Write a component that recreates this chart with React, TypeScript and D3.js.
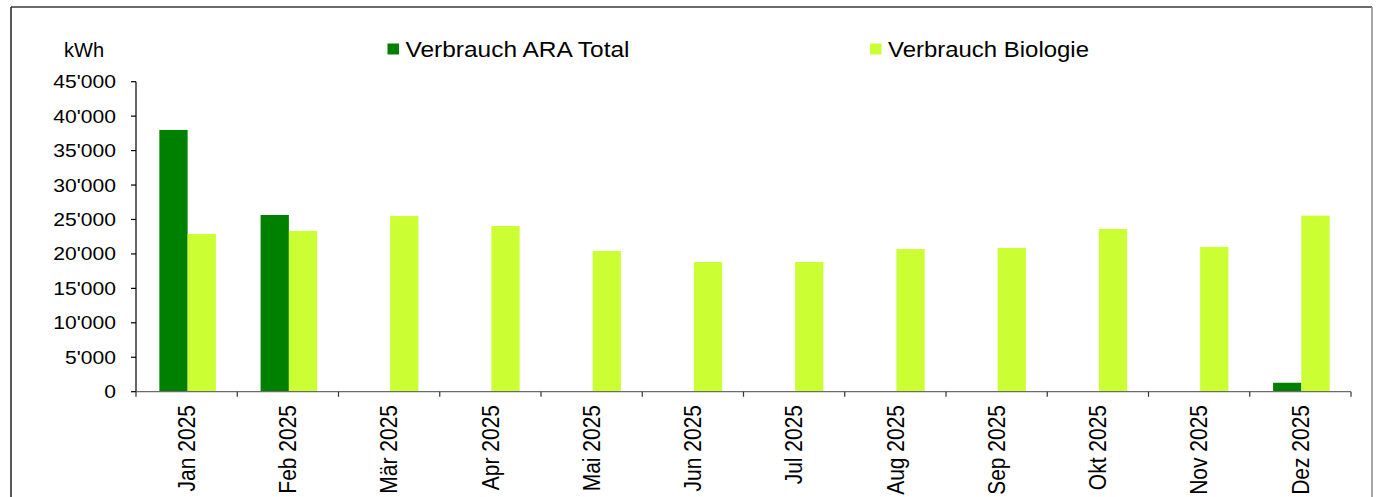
import React from "react";
import * as d3 from "d3";

const months = ["Jan 2025", "Feb 2025", "Mär 2025", "Apr 2025", "Mai 2025", "Jun 2025", "Jul 2025", "Aug 2025", "Sep 2025", "Okt 2025", "Nov 2025", "Dez 2025"];
const araTotal: (number | null)[] = [38000, 25650, null, null, null, null, null, null, null, null, null, 1300];
const biologie: (number | null)[] = [22900, 23330, 25500, 24050, 20420, 18830, 18830, 20710, 20860, 23620, 21000, 25560];
const seriesNames = ["Verbrauch ARA Total", "Verbrauch Biologie"];
const seriesColors = ["#008000", "#CCFF33"];
const yTicks = [0, 5000, 10000, 15000, 20000, 25000, 30000, 35000, 40000, 45000];
const unitLabel = "kWh";

const W = 1376;
const H = 497;
const left = 136;
const right = 1351;
const top = 81.7;
const bottom = 391.7;

export default function App() {
  const x = d3.scaleBand<string>().domain(months).range([left, right]).padding(0);
  const inner = d3
    .scaleBand<number>()
    .domain([0, 1])
    .range([0, x.bandwidth()])
    .paddingInner(0)
    .paddingOuter(0.79);
  const y = d3.scaleLinear().domain([0, 45000]).range([bottom, top]);
  const fmt = (v: number) => d3.format(",")(v).replace(/,/g, "'");
  const series = [araTotal, biologie];
  const font = "'Liberation Sans', Arial, sans-serif";

  return (
    <svg
      width={W}
      height={H}
      style={{ position: "absolute", left: 0, top: 0, background: "#fff" }}
      fontFamily={font}
    >
      <rect x={0} y={0} width={W} height={H} fill="#fff" />
      <line x1={11} x2={1372} y1={7} y2={7} stroke="#3a3a3a" strokeWidth={1.5} />
      <line x1={11} x2={11} y1={7} y2={H} stroke="#222" strokeWidth={1.5} />
      <line x1={1372} x2={1372} y1={7} y2={H} stroke="#8a8a8a" strokeWidth={1.5} />

      {/* bars */}
      {series.map((vals, si) =>
        vals.map((v, i) =>
          v == null ? null : (
            <rect
              key={`${si}-${i}`}
              x={(x(months[i]) as number) + (inner(si) as number) + 1}
              y={y(v)}
              width={inner.bandwidth()}
              height={y(0) - y(v)}
              fill={seriesColors[si]}
            />
          )
        )
      )}

      {/* y axis */}
      <line x1={left} x2={left} y1={top} y2={bottom} stroke="#000" strokeWidth={1.2} />
      {yTicks.map((t) => (
        <g key={t}>
          <line x1={left - 5} x2={left} y1={y(t)} y2={y(t)} stroke="#000" strokeWidth={1.2} />
          <text
            transform={`translate(116,${y(t)}) scale(1.14,1)`}
            textAnchor="end"
            dominantBaseline="central"
            fontSize={18.5}
            fill="#000"
          >
            {fmt(t)}
          </text>
        </g>
      ))}

      {/* x axis */}
      <line x1={left} x2={right} y1={bottom} y2={bottom} stroke="#6b6b6b" strokeWidth={1.2} />
      {months.map((m) => (
        <line
          key={"t" + m}
          x1={x(m) as number}
          x2={x(m) as number}
          y1={bottom}
          y2={bottom + 5}
          stroke="#333"
          strokeWidth={1.2}
        />
      ))}
      <line x1={right} x2={right} y1={bottom} y2={bottom + 5} stroke="#333" strokeWidth={1.2} />
      {months.map((m) => (
        <text
          key={"l" + m}
          transform={`translate(${(x(m) as number) + x.bandwidth() / 2 + 0.5},405) scale(1.1,1) rotate(-90)`}
          textAnchor="end"
          dominantBaseline="central"
          fontSize={21}
          fill="#000"
        >
          {m}
        </text>
      ))}

      {/* unit */}
      <text x={64} y={56.5} fontSize={20} fill="#000">
        {unitLabel}
      </text>

      {/* legend */}
      {seriesNames.map((n, i) => {
        const lx = i === 0 ? 387.5 : 870;
        const tw = i === 0 ? 224 : 201;
        return (
          <g key={n}>
            <rect x={lx} y={43.5} width={11.5} height={11} fill={seriesColors[i]} />
            <text
              x={lx + 18}
              y={56.5}
              fontSize={21.5}
              fill="#000"
              textLength={tw}
              lengthAdjust="spacingAndGlyphs"
            >
              {n}
            </text>
          </g>
        );
      })}
    </svg>
  );
}
